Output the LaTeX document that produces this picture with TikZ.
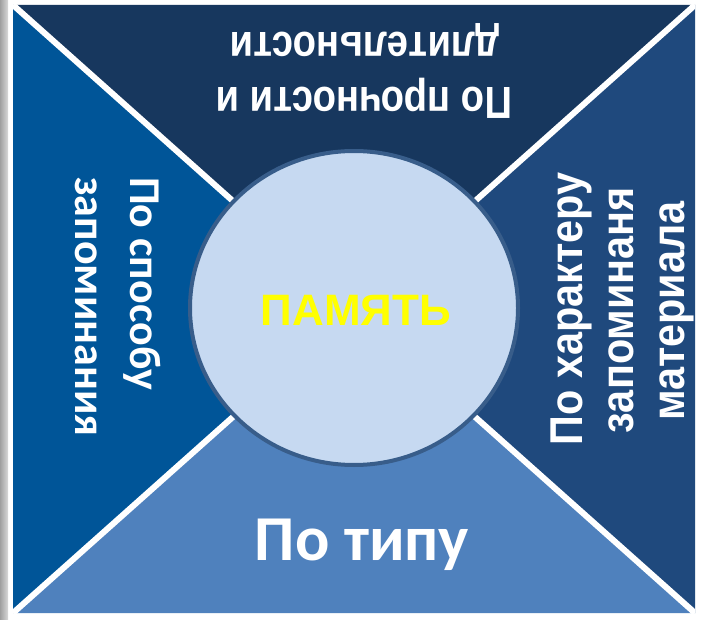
\documentclass[tikz,border=0pt]{standalone}
\usepackage{fontspec}
\setmainfont{Liberation Sans}
\newfontfamily\carl{Carlito}
\definecolor{topc}{RGB}{23,55,94}
\definecolor{leftc}{RGB}{0,85,152}
\definecolor{rightc}{RGB}{31,73,125}
\definecolor{botc}{RGB}{79,129,189}
\definecolor{circf}{RGB}{198,217,241}
\definecolor{circd}{RGB}{56,93,138}
\newcommand{\nar}[1]{\scalebox{0.85}[1]{#1}}
\newcommand{\narr}[1]{\scalebox{0.9}[1]{#1}}
\begin{document}
\begin{tikzpicture}[x=1pt,y=-1pt,
  lbl/.style={text=white,inner sep=0pt},
  arialbig/.style={font=\fontsize{45}{54}\selectfont\bfseries},
  arialr/.style={font=\fontsize{46}{54}\selectfont\bfseries},
  carlbig/.style={font=\fontsize{44}{54}\selectfont\carl\bfseries},
]
\useasboundingbox (0,0) rectangle (701,620);
\fill[white] (0,0) rectangle (701,620);
\shade[left color=gray!75,right color=gray!30] (0,0) rectangle (8,620);
\coordinate (TL) at (13,5);
\coordinate (TR) at (695,5);
\coordinate (BR) at (695,613);
\coordinate (BL) at (13,613);
\coordinate (C) at (354,309);
\fill[topc] (TL)--(TR)--(C)--cycle;
\fill[rightc] (TR)--(BR)--(C)--cycle;
\fill[botc] (BR)--(BL)--(C)--cycle;
\fill[leftc] (BL)--(TL)--(C)--cycle;
\begin{scope}
\clip (TL) rectangle (BR);
\draw[white,line width=6pt] (TL)--(BR) (TR)--(BL);
\end{scope}
\filldraw[fill=circf,draw=circd,line width=4pt] (354,308) ellipse [x radius=164,y radius=157];
% top
\node[lbl,arialbig,rotate=180,anchor=base] (t1) at (364,88) {\nar{По прочности и}};
\node[lbl,arialbig,rotate=180,anchor=base] (t2) at (365,33) {\nar{длительности}};
% left
\node[lbl,carlbig,rotate=-90,anchor=base west] (l1) at (130,177) {По способу};
\node[lbl,carlbig,rotate=-90,anchor=base west] (l2) at (75,177) {запоминания};
% right
\node[lbl,arialr,rotate=90,anchor=base] (r1) at (582,309) {\narr{По характеру}};
\node[lbl,arialr,rotate=90,anchor=base] (r2) at (633,310) {\narr{запоминаня}};
\node[lbl,arialr,rotate=90,anchor=base] (r3) at (684,311) {\narr{материала}};
% bottom
\node[lbl,font=\fontsize{64}{72}\selectfont\carl\bfseries,anchor=base] (b) at (362,560) {По типу};
% centre
\node[inner sep=0pt,text={rgb,255:red,255;green,255;blue,0},font=\fontsize{44}{50}\selectfont\bfseries] (m) at (356,310) {ПАМЯТЬ};
\end{tikzpicture}
\end{document}
